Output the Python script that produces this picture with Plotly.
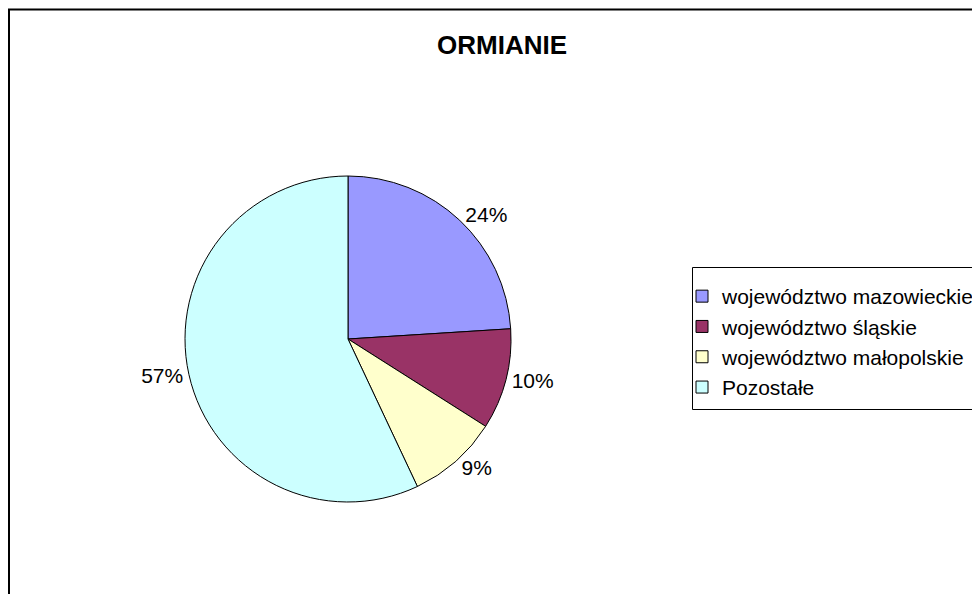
import plotly.graph_objects as go

labels = ["województwo mazowieckie", "województwo śląskie",
          "województwo małopolskie", "Pozostałe"]
values = [24, 10, 9, 57]
colors = ["#9999FF", "#993366", "#FFFFCC", "#CCFFFF"]

W, H = 980, 594
# the page body adds an 8px offset, so positions are in figure pixels
cx, cy, r = 340, 331, 163

fig = go.Figure()

fig.add_trace(go.Pie(
    labels=labels,
    values=values,
    sort=False,
    direction="clockwise",
    rotation=0,
    marker=dict(colors=colors, line=dict(color="black", width=1)),
    textinfo="percent",
    textposition="outside",
    texttemplate="%{percent:.0%}",
    textfont=dict(size=21, color="black"),
    domain=dict(x=[(cx - r) / W, (cx + r) / W],
                y=[1 - (cy + r) / H, 1 - (cy - r) / H]),
    showlegend=True,
))

# outer chart border (right and bottom lie outside the window)
fig.add_shape(type="rect", xref="paper", yref="paper",
              x0=1 / W, x1=1.05, y0=-0.05, y1=1 - 1.5 / H,
              line=dict(color="black", width=2), fillcolor="rgba(0,0,0,0)")

# legend frame
fig.add_shape(type="rect", xref="paper", yref="paper",
              x0=684.5 / W, x1=1.05, y0=1 - 401.5 / H, y1=1 - 259.5 / H,
              line=dict(color="black", width=1), fillcolor="rgba(0,0,0,0)")

fig.update_layout(
    width=W, height=H,
    margin=dict(l=0, r=0, t=0, b=0, autoexpand=False),
    paper_bgcolor="white",
    plot_bgcolor="white",
    font=dict(family="Liberation Sans, Arial, sans-serif", color="black"),
    title=dict(text="<b>ORMIANIE</b>", x=494 / W, xanchor="center",
               y=1 - 37 / H, yanchor="middle", yref="container",
               font=dict(size=26, color="black")),
    legend=dict(x=674 / W, xanchor="left", y=1 - 268 / H, yanchor="top",
                borderwidth=0, bgcolor="rgba(0,0,0,0)",
                font=dict(size=21, color="black"), traceorder="normal"),
)

fig.write_html("out.html")
